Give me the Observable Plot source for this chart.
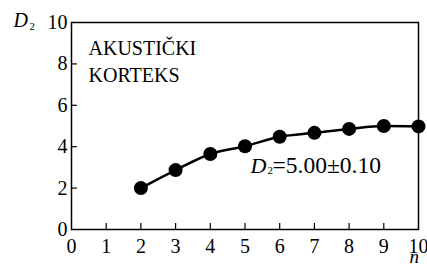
<!DOCTYPE html>
<html>
<head>
<meta charset="utf-8">
<script src="https://cdn.jsdelivr.net/npm/d3@7"></script>
<script src="https://cdn.jsdelivr.net/npm/@observablehq/plot@0.6"></script>
<style>
  html, body { margin: 0; padding: 0; background: white; }
</style>
</head>
<body>
<div id="chart"></div>
<script>
// Data
const nValues = [2, 3, 4, 5, 6, 7, 8, 9, 10];
const d2Values = [2.0, 2.87, 3.65, 4.02, 4.48, 4.67, 4.86, 5.0, 4.98];
const xTicks = [0, 1, 2, 3, 4, 5, 6, 7, 8, 9, 10];
const yTicks = [0, 2, 4, 6, 8, 10];
const regionLabel = "AKUSTIČKI\nKORTEKS";
const resultText = "=5.00±0.10";

const data = nValues.map((n, i) => ({n, d2: d2Values[i]}));
const inner = (arr) => arr.slice(1, -1);

const chart = Plot.plot({
  width: 427,
  height: 266,
  marginLeft: 71,
  marginRight: 9,
  marginTop: 22,
  marginBottom: 37,
  x: {domain: [0, 10]},
  y: {domain: [0, 10]},
  style: {fontFamily: "'Liberation Serif', 'Times New Roman', serif", fontSize: "20px", background: "white", color: "black", overflow: "visible"},
  marks: [
    Plot.frame({stroke: "black", strokeWidth: 1.5}),
    Plot.axisX(xTicks, {tickSize: 0, tickPadding: 9, label: null, tickFormat: d => String(d)}),
    Plot.axisY(yTicks, {tickSize: 0, tickPadding: 4, label: null, tickFormat: d => String(d)}),
    Plot.ruleX(inner(xTicks), {x: d => d, y1: 0, y2: 0.29, stroke: "black", strokeWidth: 1.2}),
    Plot.ruleY(inner(yTicks), {y: d => d, x1: 0, x2: 0.17, stroke: "black", strokeWidth: 1.2}),
    Plot.line(data, {x: "n", y: "d2", curve: "monotone-x", stroke: "black", strokeWidth: 2.5}),
    Plot.dot(data, {x: "n", y: "d2", r: 7, fill: "black", stroke: null}),
    // region label
    Plot.text([regionLabel], {text: d => d, frameAnchor: "top-left", dx: 17, dy: 13, textAnchor: "start", lineAnchor: "top", lineHeight: 1.35, fill: "black"}),
    // y axis label D2
    Plot.text(["D"], {text: d => d, frameAnchor: "top-left", dx: -58, dy: -10, textAnchor: "start", lineAnchor: "top", fontStyle: "italic", fill: "black"}),
    Plot.text(["2"], {text: d => d, frameAnchor: "top-left", dx: -42, dy: 0, textAnchor: "start", lineAnchor: "top", fontSize: 11, fill: "black"}),
    // x axis label n
    Plot.text(["n"], {text: d => d, frameAnchor: "bottom-right", dx: -9, dy: 20, textAnchor: "start", lineAnchor: "top", fontStyle: "italic", fontSize: 19, fill: "black"}),
    // result annotation
    Plot.text(["D"], {text: d => d, frameAnchor: "top-left", dx: 179, dy: 135, textAnchor: "start", lineAnchor: "top", fontStyle: "italic", fontSize: 22, fill: "black"}),
    Plot.text(["2"], {text: d => d, frameAnchor: "top-left", dx: 196, dy: 144, textAnchor: "start", lineAnchor: "top", fontSize: 11, fill: "black"}),
    Plot.text([resultText], {text: d => d, frameAnchor: "top-left", dx: 201, dy: 134, textAnchor: "start", lineAnchor: "top", fontSize: 23.5, fill: "black"})
  ]
});
document.getElementById("chart").appendChild(chart);
</script>
</body>
</html>
